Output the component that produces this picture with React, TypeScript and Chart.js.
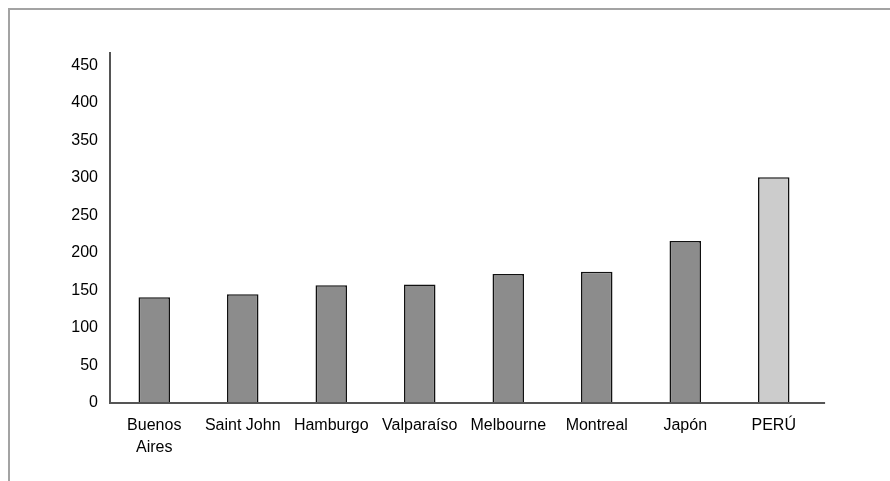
import React, { useEffect, useRef } from "react";
import { Chart, registerables } from "chart.js";

Chart.register(...registerables);

// Categories and values
const cities = [["Buenos", "Aires"], "Saint John", "Hamburgo", "Valparaíso", "Melbourne", "Montreal", "Japón", "PERÚ"];
const values = [141, 145, 157, 158, 172, 175, 216, 301];
const barColors = ["#8c8c8c", "#8c8c8c", "#8c8c8c", "#8c8c8c", "#8c8c8c", "#8c8c8c", "#8c8c8c", "#cccccc"];
const yTicks = [0, 50, 100, 150, 200, 250, 300, 350, 400, 450];
const yMax = 468;

const FONT = "'Liberation Sans', Arial, sans-serif";

// Draws the two axis lines; the category axis runs slightly past the last slot.
const axisLines = {
  id: "axisLines",
  afterDatasetsDraw(chart: any) {
    const { ctx, chartArea } = chart;
    const slot = chart.scales.x.width / cities.length;
    ctx.save();
    ctx.strokeStyle = "#555555";
    ctx.lineWidth = 2;
    ctx.beginPath();
    ctx.moveTo(chartArea.left, chartArea.top);
    ctx.lineTo(chartArea.left, chartArea.bottom);
    ctx.lineTo(chartArea.right + slot * 0.08, chartArea.bottom);
    ctx.stroke();
    ctx.restore();
  },
};

export default function App() {
  const canvasRef = useRef<HTMLCanvasElement | null>(null);

  useEffect(() => {
    if (!canvasRef.current) return;
    const chart = new Chart(canvasRef.current, {
      type: "bar",
      data: {
        labels: cities,
        datasets: [
          {
            data: values,
            backgroundColor: barColors,
            borderColor: "#111111",
            borderWidth: 1.6,
            barPercentage: 0.356,
            categoryPercentage: 1,
          },
        ],
      },
      options: {
        animation: false,
        responsive: true,
        maintainAspectRatio: false,
        layout: { padding: { top: 42, left: 40, right: 72, bottom: 28 } },
        plugins: { legend: { display: false }, tooltip: { enabled: false } },
        scales: {
          x: {
            grid: { display: false, drawTicks: false },
            border: { display: false },
            ticks: {
              color: "#000000",
              padding: 12,
              maxRotation: 0,
              autoSkip: false,
              font: { family: FONT, size: 16, lineHeight: 1.35 },
            },
            afterFit: (s: any) => {
              s.height = 50;
            },
          },
          y: {
            min: 0,
            max: yMax,
            grid: { display: false, drawTicks: false },
            border: { display: false },
            afterBuildTicks: (s: any) => {
              s.ticks = yTicks.map((v) => ({ value: v }));
            },
            ticks: {
              color: "#000000",
              padding: 12,
              font: { family: FONT, size: 16 },
            },
            afterFit: (s: any) => {
              s.width = 60;
            },
          },
        },
      },
      plugins: [axisLines],
    });
    return () => chart.destroy();
  }, []);

  return (
    <div
      style={{
        position: "absolute",
        left: 8,
        top: 8,
        width: 882,
        height: 473,
        boxSizing: "border-box",
        borderTop: "2px solid #a3a3a3",
        borderLeft: "2px solid #a3a3a3",
        background: "#ffffff",
      }}
    >
      <div style={{ position: "relative", width: 880, height: 471 }}>
        <canvas ref={canvasRef} />
      </div>
    </div>
  );
}
